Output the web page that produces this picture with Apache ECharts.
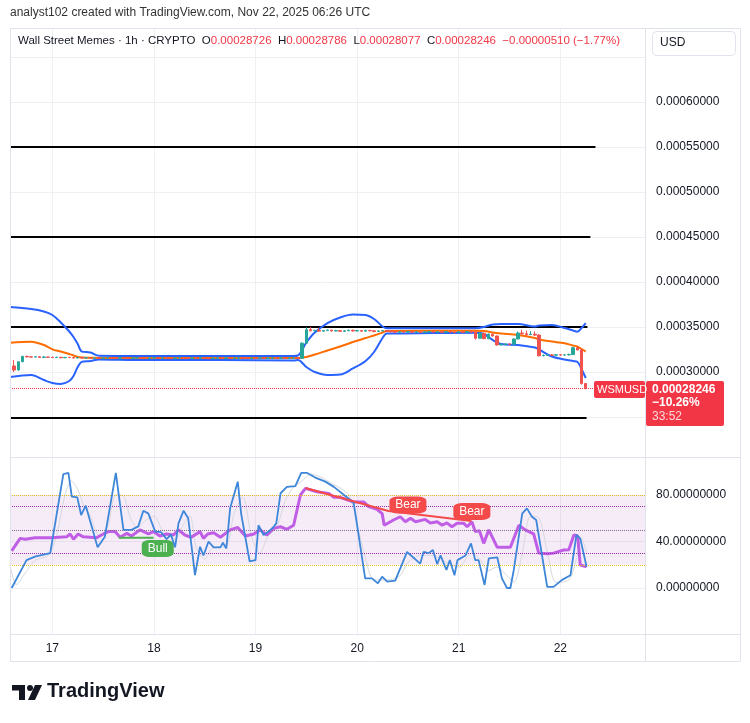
<!DOCTYPE html>
<html>
<head>
<meta charset="utf-8">
<title>WSMUSD 1h</title>
<script src="https://cdn.jsdelivr.net/npm/echarts@6/dist/echarts.min.js"></script>
<style>
html, body { margin: 0; padding: 0; background: #fff; }
#chart { width: 750px; height: 723px; }
</style>
</head>
<body>
<div id="chart"></div>
<script>
// x = hours since Nov 17 00:00 UTC, prices in units of 1e-8 USD
const dayTicks = [0, 24, 48, 72, 96, 120];
const dayLabels = ['17', '18', '19', '20', '21', '22'];

// hourly candles, first one at hour -9, open of each = previous close
const candleFirstHour = -9;
const candleFirstOpen = 30670;
const candleClose = [
    30220, 31140, 31740, 31680, 31660, 31700, 31620, 31660, 31640, 31600,
    31640, 31580, 31620, 31600, 31560, 31600, 31560, 31580, 31540, 31570,
    31520, 31560, 31600, 31540, 31520, 31580, 31550, 31510, 31560, 31590,
    31540, 31500, 31550, 31580, 31530, 31560, 31520, 31490, 31550, 31580,
    31540, 31510, 31560, 31530, 31570, 31520, 31480, 31540, 31560, 31520,
    31550, 31500, 31540, 31580, 31530, 31500, 31550, 31520, 31560, 31510,
    31540, 31570, 31520, 31550, 31500, 31540, 31560, 31520, 33200, 34700,
    34580, 34620, 34540, 34600, 34650, 34560, 34600, 34520, 34580, 34640,
    34560, 34600, 34540, 34620, 34580, 34500, 34560, 34600, 34540, 34480,
    34420, 34480, 34440, 34500, 34420, 34460, 34400, 34460, 34500, 34430,
    34460, 34420, 34480, 34440, 34400, 34460, 34420, 34480, 34440, 33750,
    34300, 33700, 34200, 34000, 33000, 33050, 33100, 33080, 33670, 34330,
    34250, 34150, 34200, 34100, 31800, 31850, 31900, 31870, 31920, 31880,
    31900, 31950, 32700, 32450, 28726, 28246
];
const candleHigh = [
    31330, 31200, 31800, 31800, 31760, 31760, 31740, 31780, 31700, 31680,
    31700, 31680, 31680, 31700, 31660, 31650, 31640, 31640, 31620, 31620,
    31620, 31610, 31660, 31640, 31580, 31630, 31620, 31570, 31610, 31650,
    31640, 31580, 31600, 31640, 31620, 31610, 31600, 31560, 31600, 31630,
    31630, 31590, 31610, 31600, 31620, 31610, 31560, 31600, 31620, 31600,
    31600, 31590, 31600, 31640, 31610, 31570, 31600, 31590, 31620, 31600,
    31590, 31620, 31600, 31610, 31580, 31590, 31610, 31600, 33300, 34950,
    35000, 34700, 34900, 34680, 34720, 34700, 34680, 34640, 34660, 34700,
    34700, 34680, 34650, 34700, 34680, 34620, 34640, 34660, 34620, 34580,
    34540, 34560, 34520, 34580, 34540, 34560, 34500, 34540, 34580, 34540,
    34560, 34520, 34560, 34540, 34500, 34540, 34520, 34560, 34540, 34480,
    34400, 34350, 34300, 34250, 34050, 33200, 33180, 33200, 33750, 34500,
    34700, 34600, 34550, 34500, 34200, 31950, 32000, 31980, 32000, 31980,
    31990, 32050, 32800, 32750, 32550, 28786
];
const candleLow = [
    30000, 30150, 31100, 31620, 31600, 31640, 31600, 31600, 31560, 31560,
    31570, 31540, 31550, 31560, 31520, 31530, 31510, 31530, 31500, 31510,
    31480, 31500, 31540, 31500, 31470, 31500, 31500, 31460, 31490, 31540,
    31490, 31450, 31480, 31520, 31490, 31500, 31470, 31440, 31470, 31530,
    31490, 31460, 31490, 31480, 31510, 31470, 31430, 31460, 31510, 31470,
    31490, 31450, 31480, 31520, 31480, 31450, 31480, 31470, 31500, 31460,
    31470, 31510, 31480, 31490, 31450, 31480, 31500, 31460, 31480, 33150,
    34520, 34520, 34480, 34500, 34560, 34500, 34520, 34460, 34500, 34560,
    34480, 34520, 34460, 34520, 34500, 34420, 34480, 34520, 34460, 34380,
    34340, 34400, 34380, 34420, 34360, 34380, 34320, 34380, 34420, 34360,
    34380, 34340, 34400, 34360, 34300, 34380, 34340, 34400, 34360, 33600,
    33700, 33650, 33650, 33950, 32950, 32950, 33000, 32980, 33000, 33620,
    34150, 34050, 34100, 34000, 31750, 31750, 31800, 31800, 31820, 31800,
    31820, 31850, 31900, 32400, 28600, 28077
];
const lastClose = 28246;

// Bollinger bands
const bbHours = [-10, -5, -2, 0, 2, 4, 5, 6, 7, 9, 11, 20, 40, 57, 58, 60, 62, 65, 68, 71,
    74, 76, 78, 79, 80, 100, 102, 104, 106, 110, 114, 115, 118, 121, 123, 124, 125, 126];
const bbUpper = [37220, 37000, 36720, 36330, 35500, 34500, 33890, 33110, 32260, 32170,
    31810, 31780, 31780, 31780, 31830, 33280, 34390, 35440, 36060, 36390,
    36330, 35890, 35060, 34860, 34860, 34860, 35000, 35280, 35330, 35330,
    35060, 35170, 35220, 34890, 34610, 34480, 34890, 35440];
const bbLower = [29440, 29670, 29110, 28780, 28670, 29000, 29560, 30560, 31140, 31220,
    31390, 31330, 31330, 31280, 31330, 30560, 30000, 29670, 29720, 30390,
    31220, 32220, 33780, 34280, 34280, 34370, 34220, 33560, 33110, 33000,
    32720, 32500, 31720, 31390, 31220, 31140, 30330, 29330];
const bbBasis = [33260, 33370, 33000, 32520, 32280, 32000, 31830, 31670, 31610, 31590,
    31560, 31560, 31560, 31560, 31560, 31670, 31940, 32390, 32830, 33330,
    33780, 34060, 34390, 34560, 34560, 34590, 34560, 34390, 34280, 34110,
    33780, 33610, 33390, 33190, 32940, 32830, 32560, 32260];

// horizontal levels drawn on the chart
const levelPrices = [55000, 45000, 35000, 24900];
const levelEnds = [128.3, 127.1, 126.4, 126.2];

// lower pane: stochastic %K, %D and RSI, [hour, value]
const stochK = [[-9.6,0],[-6.1,24],[-4.1,27],[-0.5,30],[2.6,98],[3.8,99],[4.6,78.6],[5.9,78],[6.8,62.8],[7.9,70.8],
    [10.7,35],[12.4,44],[15,99],[16.8,50],[18.7,50],[20.3,53],[21.5,66.5],[22.7,64],[24.3,48.5],[25.7,48],
    [27,42],[28,46],[29,35],[29.8,55.6],[31,66.5],[32.1,60],[33.7,11],[34.9,35.5],[35.7,28],[36.9,40],
    [38.1,35],[39.7,35],[40.3,39],[41.1,34],[42,68.5],[43.8,91.5],[44.6,64],[46.6,23],[48,24],[48.7,54],
    [49.9,45.6],[51.1,48.5],[52.3,52.7],[52.9,55.6],[53.9,81.5],[55.4,87],[57.4,87.7],[58.8,99],[60.2,99],[62.1,95],
    [64.5,91.5],[66.5,87],[70.4,75.7],[71.2,73],[73.9,8.3],[75.5,8.3],[76.9,4],[77.9,9.7],[79.1,5.4],[81,6.3],
    [83.8,31],[86.9,21],[87.7,31],[88.9,30],[89.9,32.7],[90.9,20.6],[91.7,28],[93.1,15.5],[93.9,24],[95,11],
    [95.7,24],[97.6,28],[98.9,38.4],[99.9,24],[100.7,24],[102.1,2.6],[103.1,25.5],[105.1,26.4],[106.2,8.3],[107.4,0],
    [108.2,0],[109,15.5],[111,64],[112.1,68.5],[113.3,61.3],[114.3,58.5],[116.9,1],[118.4,1],[120.4,7],[122.4,11],
    [123.8,45.6],[124.7,42.7],[126.2,18.3]];
const stochD = [[-10,20],[-8.5,3],[-6,15],[-4,24],[-1,28],[1,45],[3,80],[4.5,92],[6,85],[7.5,70],
    [9,62],[11,45],[13,52],[15,80],[16.5,80],[18.5,60],[20,52],[22,58],[24,62],[26,50],
    [29,42],[31,55],[32.5,62],[34,35],[36,25],[38,35],[41,36],[43,65],[45,78],[47,45],
    [49,30],[51,45],[53,52],[55,75],[57,87],[59,92],[61,98],[63,96],[66,90],[70,80],
    [72,55],[74,25],[76,7],[79,7],[82,10],[84,22],[87,28],[90,28],[93,22],[96,18],
    [99,30],[101,25],[103,15],[105,18],[107,12],[109,5],[111,30],[113,62],[115,60],[117,30],
    [119,5],[122,7],[124,28],[125,43],[126.2,30]];
const rsi = [[-9.6,32],[-7.6,42.7],[-6.4,42],[-4.1,43.3],[-0.2,43.3],[3.4,44],[4.2,46.5],[5,42],[6.1,46.5],[7.3,44],
    [10.5,43.3],[11.6,45.6],[13.2,48.5],[14.8,48.5],[16,43.6],[17.6,47],[18.7,44.7],[20.7,50],[22.7,46.5],[23.9,48.5],
    [25.4,44.7],[27,46.5],[28.6,45.6],[29.8,50],[31.3,45.6],[32.8,43.6],[34.9,48.5],[35.7,42.7],[36.7,46.5],[38.1,47.6],
    [39.7,43.6],[42,50],[43.8,52],[45.6,44.7],[47.6,46.5],[49.1,50],[50.7,45.6],[52.3,51.3],[53.9,52.7],[55.4,50.5],
    [57,54],[58.6,80],[59.8,85.7],[62.5,82.8],[64.1,82],[65.3,81.4],[66.5,78],[68,78],[71.2,74],[73.6,74],
    [74.7,70],[76.7,67.7],[77.9,64],[78.4,54],[80.6,58.5],[82.2,61.3],[83.4,57],[84.6,60],[85.8,57],[88.1,59],
    [89.3,56],[90.9,57],[92.1,54],[93.2,56],[94.4,52.7],[95.6,55.6],[97.2,55.6],[98,52.7],[99.1,57],[99.9,48.5],
    [100.9,49.2],[101.9,38.4],[103.1,50],[105.1,35],[108.2,35],[110.2,54],[111.7,50],[113.7,46.5],[114.9,30],[116.9,29.5],
    [118.4,30],[120.8,32.7],[122,33],[123.2,45.6],[124.1,44.7],[124.7,19.8],[126.2,18.3]];

// divergences
const bearLine = [[59.8, 86], [79.4, 66.2], [99, 57.6]];
const bearLabelAt = [[84, 71.4], [99.1, 65.8]];
const bullLine = [[15.7, 43.3], [23.9, 43.3]];
const bullLabelAt = [[24.9, 34]];

const FONT = 'Liberation Sans';
const TXT = '#131722';
const UP = '#26a69a';
const DOWN = '#ef5350';
const GRIDC = '#eef0f4';

const chart = echarts.init(document.getElementById('chart'));

const candleData = candleClose.map((c, i) => {
    const o = i === 0 ? candleFirstOpen : candleClose[i - 1];
    return [candleFirstHour + i, o, c, candleLow[i], candleHigh[i]];
});
const bbPts = arr => bbHours.map((h, i) => [h, arr[i]]);
const bbWidth = bbHours.map((h, i) => [h, bbUpper[i] - bbLower[i]]);

const xCommon = {
    type: 'value', min: -10, max: 140,
    axisLine: { show: false },
    axisTick: { show: false, customValues: dayTicks },
    splitLine: { show: true, lineStyle: { color: GRIDC, width: 1 } },
};

const levelSeries = levelPrices.map((p, i) => ({
    type: 'line', xAxisIndex: 0, yAxisIndex: 0,
    data: [[-10, p], [levelEnds[i], p]],
    symbol: 'none', silent: true, z: 3,
    lineStyle: { color: '#000', width: 2 },
}));

const option = {
    animation: false,
    backgroundColor: '#fff',
    grid: [
        { left: 10, top: 28, width: 635, height: 434 },
        { left: 10, top: 458, width: 635, height: 176.5 },
    ],
    xAxis: [
        Object.assign({}, xCommon, { gridIndex: 0, axisLabel: { show: false, customValues: dayTicks } }),
        Object.assign({}, xCommon, {
            gridIndex: 1,
            axisLabel: {
                customValues: dayTicks, margin: 8, color: TXT, fontFamily: FONT, fontSize: 12,
                formatter: v => dayLabels[dayTicks.indexOf(v)] || ''
            }
        }),
    ],
    yAxis: [
        {
            gridIndex: 0, type: 'value', position: 'right', min: 20000, max: 68222, interval: 5000,
            axisLine: { show: false }, axisTick: { show: false },
            splitLine: { lineStyle: { color: GRIDC }, showMinLine: false },
            axisLabel: {
                margin: 11, color: TXT, fontFamily: FONT, fontSize: 12,
                formatter: v => (v < 30000 || v > 60000) ? '' : (v / 1e8).toFixed(8)
            }
        },
        {
            gridIndex: 1, type: 'value', position: 'right', min: -40, max: 111.83, interval: 40,
            axisLine: { show: false }, axisTick: { show: false },
            splitLine: { lineStyle: { color: GRIDC }, showMinLine: false, showMaxLine: false },
            axisLabel: {
                margin: 11, color: TXT, fontFamily: FONT, fontSize: 12, showMaxLabel: false,
                formatter: v => (v < 0 || v > 80) ? '' : v.toFixed(8)
            }
        },
    ],
    series: [
        // band fill
        {
            type: 'line', xAxisIndex: 0, yAxisIndex: 0, stack: 'bb', data: bbPts(bbLower),
            symbol: 'none', smooth: 0.35, silent: true, lineStyle: { opacity: 0 }, z: 1,
        },
        {
            type: 'line', xAxisIndex: 0, yAxisIndex: 0, stack: 'bb', data: bbWidth,
            symbol: 'none', smooth: 0.35, silent: true, lineStyle: { opacity: 0 }, z: 1,
            areaStyle: { color: 'rgba(33,150,243,0.06)' },
        },
        {
            type: 'line', xAxisIndex: 0, yAxisIndex: 0, data: bbPts(bbUpper),
            symbol: 'none', smooth: 0.35, lineStyle: { color: '#2962ff', width: 2 }, z: 4,
        },
        {
            type: 'line', xAxisIndex: 0, yAxisIndex: 0, data: bbPts(bbLower),
            symbol: 'none', smooth: 0.35, lineStyle: { color: '#2962ff', width: 2 }, z: 4,
        },
        {
            type: 'line', xAxisIndex: 0, yAxisIndex: 0, data: bbPts(bbBasis),
            symbol: 'none', smooth: 0.35, lineStyle: { color: '#ff6d00', width: 2 }, z: 4,
        },
        ...levelSeries,
        {
            type: 'candlestick', xAxisIndex: 0, yAxisIndex: 0, data: candleData,
            encode: { x: 0, y: [1, 2, 3, 4] }, barWidth: 3, z: 5,
            itemStyle: { color: UP, color0: DOWN, borderColor: UP, borderColor0: DOWN, borderWidth: 1 },
            markLine: {
                silent: true, symbol: 'none', label: { show: false },
                lineStyle: { color: '#f23645', type: 'dotted', width: 1 },
                data: [{ yAxis: lastClose }]
            }
        },
        // lower pane
        {
            type: 'line', xAxisIndex: 1, yAxisIndex: 1, data: stochD,
            symbol: 'none', smooth: 0.3, lineStyle: { color: '#d6d8de', width: 1 }, z: 3,
            markArea: {
                silent: true, itemStyle: { color: 'rgba(156,39,176,0.09)' },
                data: [[{ yAxis: 20 }, { yAxis: 80 }]]
            },
            markLine: {
                silent: true, symbol: 'none', label: { show: false },
                data: [
                    { yAxis: 80, lineStyle: { color: '#e8c21a', type: 'dotted', width: 1 } },
                    { yAxis: 70, lineStyle: { color: '#9c27b0', type: 'dotted', width: 1 } },
                    { yAxis: 50, lineStyle: { color: '#8e6b96', type: 'dotted', width: 1 } },
                    { yAxis: 30, lineStyle: { color: '#9c27b0', type: 'dotted', width: 1 } },
                    { yAxis: 20, lineStyle: { color: '#e8c21a', type: 'dotted', width: 1 } },
                ]
            }
        },
        {
            type: 'line', xAxisIndex: 1, yAxisIndex: 1, data: rsi,
            symbol: 'none', lineStyle: { color: '#c05ee6', width: 3 }, z: 4,
        },
        {
            type: 'line', xAxisIndex: 1, yAxisIndex: 1, data: stochK,
            symbol: 'none', lineStyle: { color: '#3d86d9', width: 1.8 }, z: 5,
        },
        {
            type: 'line', xAxisIndex: 1, yAxisIndex: 1, data: bearLine,
            symbol: 'none', lineStyle: { color: '#f44a4a', width: 2 }, z: 6,
            markPoint: {
                symbol: 'roundRect', symbolSize: [37, 17], silent: true,
                itemStyle: { color: '#f44a4a' },
                label: { show: true, color: '#fff', fontFamily: FONT, fontSize: 12, formatter: 'Bear' },
                data: bearLabelAt.map(c => ({ coord: c }))
            }
        },
        {
            type: 'line', xAxisIndex: 1, yAxisIndex: 1, data: bullLine,
            symbol: 'none', lineStyle: { color: '#4caf50', width: 2 }, z: 6,
            markPoint: {
                symbol: 'roundRect', symbolSize: [32, 17], silent: true,
                itemStyle: { color: '#4caf50' },
                label: { show: true, color: '#fff', fontFamily: FONT, fontSize: 12, formatter: 'Bull' },
                data: bullLabelAt.map(c => ({ coord: c }))
            }
        },
    ],
    graphic: [
        // frame
        { type: 'rect', z: 50, shape: { x: 10.5, y: 28.5, width: 730, height: 633 }, style: { fill: 'none', stroke: '#e0e3eb' } },
        { type: 'line', z: 50, shape: { x1: 645.5, y1: 28, x2: 645.5, y2: 662 }, style: { stroke: '#e0e3eb' } },
        { type: 'line', z: 50, shape: { x1: 10, y1: 457.5, x2: 740, y2: 457.5 }, style: { stroke: '#e0e3eb' } },
        { type: 'line', z: 50, shape: { x1: 10, y1: 634.5, x2: 740, y2: 634.5 }, style: { stroke: '#e0e3eb' } },
        // top line
        { type: 'text', z: 60, left: 10, top: 7, style: { text: 'analyst102 created with TradingView.com, Nov 22, 2025 06:26 UTC', fill: '#333', font: '12px "Liberation Sans"' } },
        {
            type: 'text', z: 60, left: 18, top: 35,
            style: {
                text: '{k|Wall Street Memes · 1h · CRYPTO  O}{r|0.00028726}{k|  H}{r|0.00028786}{k|  L}{r|0.00028077}{k|  C}{r|0.00028246  −0.00000510 (−1.77%)}',
                font: '11.5px "Liberation Sans"',
                rich: {
                    k: { fill: TXT, font: '11.5px "Liberation Sans"' },
                    r: { fill: '#f23645', font: '11.5px "Liberation Sans"' }
                }
            }
        },
        { type: 'rect', z: 60, shape: { x: 652.5, y: 31.5, width: 83, height: 24, r: 4 }, style: { fill: '#fff', stroke: '#e0e3eb' } },
        { type: 'text', z: 61, left: 660, top: 37, style: { text: 'USD', fill: TXT, font: '12px "Liberation Sans"' } },
        // last price labels
        { type: 'rect', z: 60, shape: { x: 594, y: 381, width: 51, height: 17, r: 2 }, style: { fill: '#f23645' } },
        { type: 'text', z: 61, left: 597, top: 384, style: { text: 'WSMUSD', fill: '#fff', font: '11px "Liberation Sans"' } },
        { type: 'rect', z: 60, shape: { x: 646, y: 381, width: 78, height: 45, r: 2 }, style: { fill: '#f23645' } },
        { type: 'text', z: 61, left: 652, top: 384, style: { text: '0.00028246', fill: '#fff', font: 'bold 12px "Liberation Sans"' } },
        { type: 'text', z: 61, left: 652, top: 397, style: { text: '−10.26%', fill: '#fff', font: 'bold 12px "Liberation Sans"' } },
        { type: 'text', z: 61, left: 652, top: 411, style: { text: '33:52', fill: 'rgba(255,255,255,0.8)', font: '12px "Liberation Sans"' } },
        // TradingView logo
        { type: 'polygon', z: 60, shape: { points: [[12, 685], [25, 685], [25, 700], [19, 700], [19, 690.5], [12, 690.5]] }, style: { fill: TXT } },
        { type: 'circle', z: 60, shape: { cx: 30, cy: 688, r: 3 }, style: { fill: TXT } },
        { type: 'polygon', z: 60, shape: { points: [[35, 685], [42, 685], [35, 700], [28, 700]] }, style: { fill: TXT } },
        { type: 'text', z: 60, left: 47, top: 681, style: { text: 'TradingView', fill: TXT, font: 'bold 20px "Liberation Sans"' } },
    ]
};

chart.setOption(option);
</script>
</body>
</html>
